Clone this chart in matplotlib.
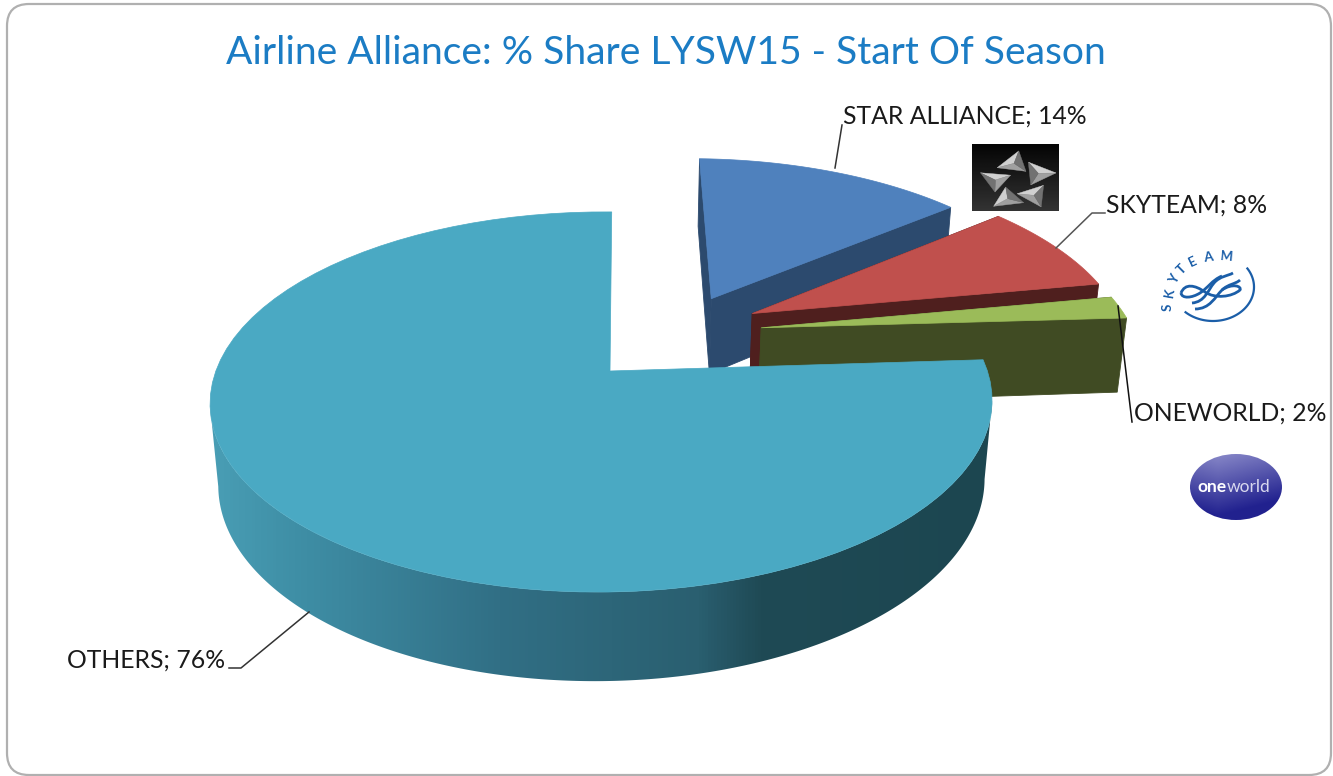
import numpy as np
import matplotlib
matplotlib.use("Agg")
import matplotlib.pyplot as plt
from matplotlib.colors import LinearSegmentedColormap
from matplotlib.patches import Polygon, FancyBboxPatch, Ellipse, PathPatch
from matplotlib.path import Path

categories = ["STAR ALLIANCE", "SKYTEAM", "ONEWORLD", "OTHERS"]
shares = [14, 8, 2, 76]
top_colors = ["#4f81bd", "#c0504d", "#9bbb59", "#4aa9c3"]
side_colors = ["#2c4a6e", "#4f1f1e", "#404b23", "#1f4650"]

title = "Airline Alliance: % Share LYSW15 - Start Of Season"

# how far each slice is pulled out of the pie, in disc units
offsets = [(0.28, 0.42), (0.39, 0.33), (0.41, 0.245), (0.0, 0.0)]
radii = [1.0, 1.04, 1.04, 1.0]

plt.rcParams["font.family"] = ["Lato", "DejaVu Sans"]

fig = plt.figure(figsize=(13.33, 7.76), dpi=100)
ax = fig.add_axes([0, 0, 1, 1])
ax.set_xlim(0, 1333)
ax.set_ylim(776, 0)
ax.axis("off")


def project(x, y, z=0.0):
    # disc coords to pixels, with the perspective of the 3d pie
    w = 1 + 0.163 * y + 0.0217 * x + 0.02 * z
    return 610 + (385.6 * x + 2 * y) / w, 371 + (-185 * y + 80.7 * z) / w


def arc(a0, a1, ox, oy, rad=1.0, z=0.0, n=80):
    t = np.radians(np.linspace(a0, a1, n))
    return project(ox + rad * np.sin(t), oy + rad * np.cos(t), z)


def quad(x0, y0, x1, y1, color, zorder):
    ax.add_patch(Polygon([(x0[0], y0[0]), (x0[1], y0[1]), (x1[1], y1[1]), (x1[0], y1[0])],
                         closed=True, fc=color, ec=color, lw=0.6, zorder=zorder))


frame = FancyBboxPatch((7, 4), 1324, 771, boxstyle="round,pad=0,rounding_size=22",
                       fc="white", ec="#b0b0b0", lw=1.6, zorder=0)
ax.add_patch(frame)

edges = np.concatenate([[0], np.cumsum(shares)]) * 3.6

# wall shading for the big slice, left to right
wall_cmap = LinearSegmentedColormap.from_list("wall", [
    (0.0, "#4a9fb6"), (0.11, "#3f8fa6"), (0.37, "#316f85"),
    (0.62, "#2a5f70"), (0.70, "#1f4a55"), (1.0, "#1c4650")])

# slices, back to front
for i in range(4):
    a0, a1 = edges[i], edges[i + 1]
    ox, oy = offsets[i]
    rad = radii[i]
    zo = 2 + i
    ax_, ay_ = project(ox, oy)
    bx_, by_ = project(ox, oy, 1)
    if i < 3:
        # radial walls, the near one is what you mostly see
        for a in (a0, a1):
            t = np.radians(a)
            ex, ey = project(ox + rad * np.sin(t), oy + rad * np.cos(t))
            fx, fy = project(ox + rad * np.sin(t), oy + rad * np.cos(t), 1)
            quad([ax_, ex], [ay_, ey], [bx_, fx], [by_, fy], side_colors[i], zo)
    else:
        # wall runs between the left and right silhouette points
        tx, ty = arc(a0, 330, ox, oy, rad, 0, 500)
        lx, ly = arc(a0, 330, ox, oy, rad, 1, 500)
        t0, t1 = tx.argmax(), tx.argmin()
        l0, l1 = lx.argmax(), lx.argmin()
        wall = Polygon(np.column_stack([np.r_[tx[t0:t1], lx[l0:l1][::-1]],
                                        np.r_[ty[t0:t1], ly[l0:l1][::-1]]]),
                       closed=True, fc="none", ec="none", zorder=zo)
        ax.add_patch(wall)
        grad = ax.imshow(np.linspace(0, 1, 256).reshape(1, -1), extent=(205, 1000, 700, 340),
                         cmap=wall_cmap, aspect="auto", zorder=zo)
        grad.set_clip_path(wall)
    px, py = arc(a0, a1, ox, oy, rad)
    pts = np.column_stack([np.r_[ax_, px], np.r_[ay_, py]])
    ax.add_patch(Polygon(pts, closed=True, fc=top_colors[i], ec=top_colors[i], lw=0.5, zorder=zo + 0.5))

# title and labels
ax.text(666, 53, title, color="#1b7cc4", fontsize=28.1, ha="center", va="center", zorder=10)

label_pos = [(843, 116), (1106, 205), (1134, 413), (67, 660)]
for name, val, (lx_, ly_) in zip(categories, shares, label_pos):
    ax.text(lx_, ly_, f"{name}; {val}%", color="#1a1a1a", fontsize=17.8, ha="left", va="center", zorder=10)

# leader lines
for xs, ys, c in [([835, 842], [168, 125], "#333333"),
                  ([1056, 1092, 1105], [248, 213, 213], "#555555"),
                  ([1118, 1132], [306, 422], "#111111"),
                  ([309, 241, 229], [612, 668, 668], "#333333")]:
    ax.plot(xs, ys, color=c, lw=1.1, zorder=9)

# star alliance logo
ramp = np.linspace(0.02, 0.2, 64).reshape(-1, 1)
ax.imshow(ramp, extent=(972, 1059, 211, 144), cmap="gray", vmin=0, vmax=1, aspect="auto", zorder=8)
tris = [[(1018, 153), (1000, 167), (1024, 170)],
        [(1030, 164), (1053, 173), (1032, 183)],
        [(1042, 187), (1020, 194), (1040, 205)],
        [(1006, 189), (996, 205), (1021, 202)],
        [(983, 174), (1008, 176), (995, 190)]]
for tr in tris:
    tr = np.array(tr, dtype=float)
    c = tr.mean(axis=0)
    tr = c + (tr - c) * 1.2
    for j, gray in enumerate(["#d0d0d0", "#a0a0a0", "#727272"]):
        ax.add_patch(Polygon([tr[j], tr[(j + 1) % 3], c], closed=True, fc=gray, ec=gray, lw=0.3, zorder=8.5))

# skyteam logo
blue = "#1b5ea8"
t = np.radians(np.linspace(33, -132, 80))
ax.plot(1213 + 41 * np.cos(t), 287 - 34 * np.sin(t), color=blue, lw=1.6, zorder=8)
for ch, x, y, rot in [("S", 1168, 307, 90), ("K", 1170, 293, 80), ("Y", 1175, 279, 62),
                      ("T", 1182, 269, 45), ("E", 1193, 262, 25), ("A", 1208, 257, 8), ("M", 1227, 257, -5)]:
    ax.text(x, y, ch, color=blue, fontsize=9.5, fontweight="bold", ha="center", va="center", rotation=rot, zorder=8)
swirls = [[(1181, 293), (1185, 283), (1195, 285), (1205, 292), (1215, 299), (1232, 297), (1240, 290),
           (1242, 286), (1232, 283), (1222, 290)],
          [(1192, 303), (1205, 302), (1208, 290), (1214, 283), (1220, 276), (1228, 276), (1233, 273)],
          [(1195, 309), (1210, 309), (1215, 297), (1222, 290), (1228, 284), (1236, 284), (1240, 280)],
          [(1181, 293), (1182, 299), (1192, 298), (1200, 293), (1208, 288), (1212, 280), (1222, 276)]]
for s in swirls:
    codes = [Path.MOVETO] + [Path.CURVE4] * (len(s) - 1)
    ax.add_patch(PathPatch(Path(s, codes), fc="none", ec=blue, lw=2.0, zorder=8))

# oneworld logo
yy, xx = np.mgrid[0:1:80j, 0:1:80j]
shade = np.clip(0.8 - (0.85 * yy + 0.3 * np.abs(xx - 0.3)), 0, 1)
img = np.zeros((80, 80, 3))
img[..., 0] = 0.13 + 0.5 * shade
img[..., 1] = 0.13 + 0.5 * shade
img[..., 2] = 0.56 + 0.28 * shade
im = ax.imshow(img, extent=(1190, 1282, 520, 454), aspect="auto", zorder=8)
clip = Ellipse((1236, 487), 92, 66, fc="none", ec="none", zorder=8)
ax.add_patch(clip)
im.set_clip_path(clip)
ax.text(1227, 487, "one", color="white", fontsize=12.5, fontweight="bold", ha="right", va="center", zorder=9)
ax.text(1227, 487, "world", color="#d8d8ee", fontsize=12.5, ha="left", va="center", zorder=9)

ax.set_xlim(0, 1333)
ax.set_ylim(776, 0)

fig.savefig("out.png", dpi=100)
